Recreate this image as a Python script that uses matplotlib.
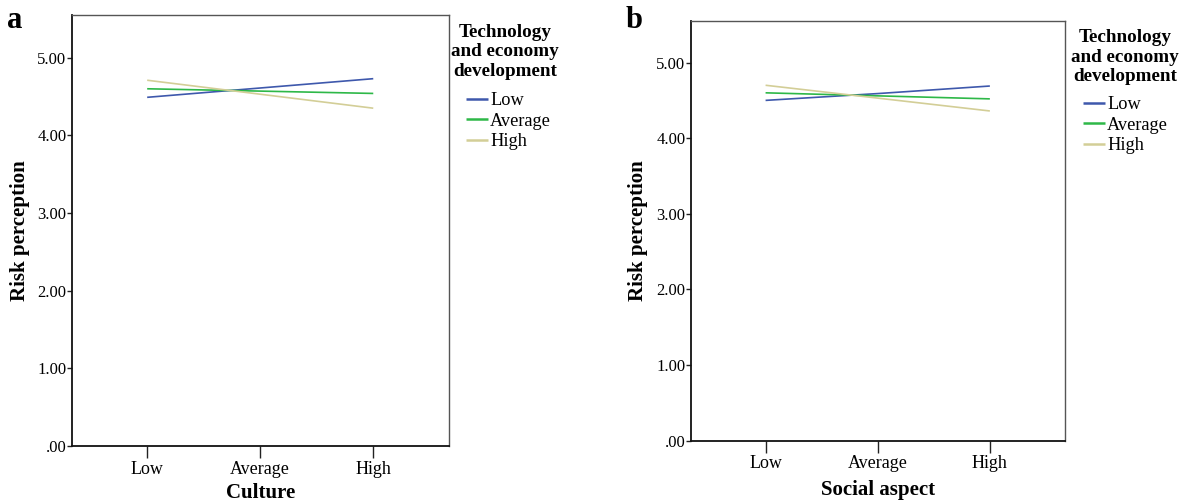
import matplotlib
matplotlib.use("Agg")
import matplotlib.pyplot as plt
from matplotlib.ticker import FuncFormatter

plt.rcParams['font.family'] = ['Liberation Serif', 'DejaVu Serif']

categories = ["Low", "Average", "High"]
series_names = ["Low", "Average", "High"]
colors = ["#3E58AC", "#2EB848", "#D3CE97"]

# Panel a: Culture
culture_low = [4.49, 4.61, 4.73]
culture_avg = [4.60, 4.57, 4.54]
culture_high = [4.71, 4.53, 4.35]

# Panel b: Social aspect
social_low = [4.50, 4.59, 4.69]
social_avg = [4.60, 4.56, 4.52]
social_high = [4.70, 4.53, 4.36]

yticks = [0, 1, 2, 3, 4, 5]

W, H = 1191, 504
fig = plt.figure(figsize=(W / 100, H / 100), dpi=100)


def fmt(v, pos):
    s = "%.2f" % v
    return s[1:] if s.startswith("0") else s


def make_panel(rect, data, xlabel, letter, letter_xy, ylab_x, xlab_y,
               title_xy, leg_xy):
    ax = fig.add_axes(rect)
    xs = list(range(len(categories)))
    for vals, name, c in zip(data, series_names, colors):
        ax.plot(xs, vals, color=c, lw=1.2, label=name, solid_capstyle='butt')
    ax.set_xlim(-0.665, 2.67)
    ax.set_ylim(0, 5.55)
    ax.set_xticks(xs)
    ax.set_xticklabels(categories)
    ax.set_yticks(yticks)
    ax.yaxis.set_major_formatter(FuncFormatter(fmt))
    ax.tick_params(axis='x', direction='out', length=8.5, width=1.0,
                   labelsize=13, pad=2, color='#222222')
    ax.tick_params(axis='y', direction='out', length=3.6, width=1.0,
                   labelsize=12, pad=0.5, color='#222222')
    for s in ['left', 'bottom']:
        ax.spines[s].set_color('#111111')
        ax.spines[s].set_linewidth(1.3)
    for s in ['top', 'right']:
        ax.spines[s].set_color('#555555')
        ax.spines[s].set_linewidth(1.0)
    ax.set_ylabel("Risk perception", fontsize=15, fontweight='bold')
    ax.yaxis.set_label_coords(ylab_x, 0.5)
    ax.yaxis.label.set_va('center')
    ax.set_xlabel(xlabel, fontsize=15, fontweight='bold')
    ax.xaxis.set_label_coords(0.5, xlab_y)
    ax.xaxis.label.set_va('center')

    fig.text(letter_xy[0] / W, 1 - letter_xy[1] / H, letter, fontsize=22,
             fontweight='bold', ha='center', va='center')
    fig.text(title_xy[0] / W, 1 - title_xy[1] / H,
             "Technology\nand economy\ndevelopment", fontsize=13.8,
             fontweight='bold', ha='center', va='center', linespacing=1.2)
    leg = ax.legend(loc='upper left',
                    bbox_to_anchor=(leg_xy[0] / W, 1 - leg_xy[1] / H),
                    bbox_transform=fig.transFigure, frameon=False,
                    fontsize=13.2, handlelength=1.2, handletextpad=0.12,
                    labelspacing=0.2, borderpad=0, borderaxespad=0)
    for line in leg.get_lines():
        line.set_linewidth(1.8)
    return ax


make_panel([72 / W, 1 - 446 / H, 377 / W, 431 / H],
           [culture_low, culture_avg, culture_high], "Culture", "a",
           (15, 20), -0.138, -0.11, (505, 52), (466, 92))
make_panel([691 / W, 1 - 440.6 / H, 374 / W, 419.6 / H],
           [social_low, social_avg, social_high], "Social aspect", "b",
           (634, 20), -0.142, -0.118, (1125, 57), (1083, 96))

fig.savefig("out.png", dpi=100)
